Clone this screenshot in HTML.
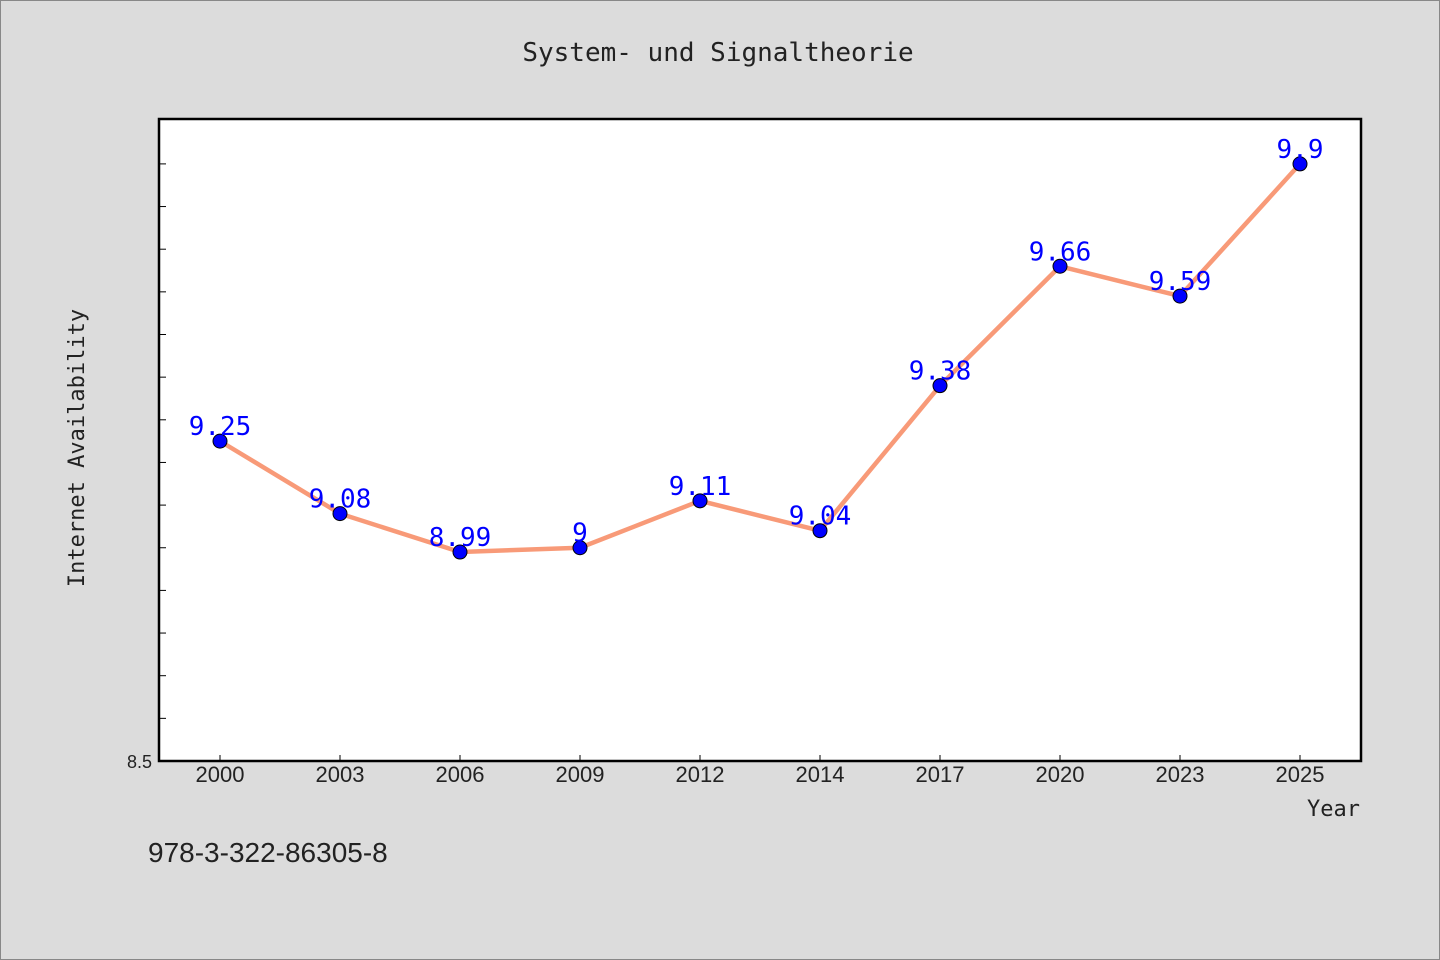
<!DOCTYPE html>
<html><head><meta charset="utf-8"><style>
body{margin:0;background:#dcdcdc;}
svg{display:block;font-family:"Liberation Sans","WenQuanYi Zen Hei",sans-serif;}
</style></head><body>
<svg width="1440" height="960" id="chart">
<rect x="0.5" y="0.5" width="1439" height="959" fill="#dcdcdc" stroke="#888"/>
<text x="718" y="61" text-anchor="middle" font-size="26" fill="#222" font-family="'WenQuanYi Zen Hei',monospace">System- und Signaltheorie</text>
<rect x="159" y="119" width="1202" height="642" fill="#fff" stroke="#000" stroke-width="2.5"/>
<g id="yticks"></g><g id="xticks"></g>
<text transform="translate(84,448) rotate(-90)" text-anchor="middle" font-size="22" fill="#222" font-family="'WenQuanYi Zen Hei',monospace">Internet Availability</text>
<text x="1360" y="816" text-anchor="end" font-size="22" fill="#222" font-family="'WenQuanYi Zen Hei',monospace">Year</text>
<text x="148" y="862" font-size="28" fill="#222" font-family="'WenQuanYi Zen Hei',sans-serif">978-3-322-86305-8</text>
<g id="series"></g>
</svg>
<script>
const categories=["2000","2003","2006","2009","2012","2014","2017","2020","2023","2025"];
const values=[9.25,9.08,8.99,9.0,9.11,9.04,9.38,9.66,9.59,9.9];
const yMin=8.5,yMax=10.0;
const NS="http://www.w3.org/2000/svg";
const X0=159,X1=1361,Y0=761,Y1=119;
function x(i){return 220+i*120;}
function y(v){return Y0-(v-yMin)/(yMax-yMin)*(Y0-Y1)*0.9965;}
function mk(t,a,p){const e=document.createElementNS(NS,t);for(const k in a)e.setAttribute(k,a[k]);p.appendChild(e);return e;}
const yt=document.getElementById('yticks');
for(let k=0;k<=14;k++){const v=yMin+k*0.1;const yy=y(v);
 const l=mk('line',{x1:X0,x2:X0+7,y1:yy,y2:yy,stroke:'#000','stroke-width':1},yt);
 
 }
const yl=mk('text',{x:152,y:Y0+7,'text-anchor':'end','font-size':18,fill:'#222'},yt);


yl.textContent='8.5';
const xt=document.getElementById('xticks');
categories.forEach((c,i)=>{
 const l=mk('line',{x1:x(i),x2:x(i),y1:Y0,y2:Y0-6,stroke:'#000','stroke-width':1},xt);
 
 
 const t=mk('text',{x:x(i),y:782,'text-anchor':'middle','font-size':22,fill:'#222'},xt);
 
 
 t.textContent=c;});
const s=document.getElementById('series');
const pl=mk('polyline',{points:values.map((v,i)=>x(i)+','+y(v)).join(' '),fill:'none',stroke:'#f89a78','stroke-width':4.5,'stroke-linejoin':'round'},s);


values.forEach((v,i)=>{
 const c=mk('circle',{cx:x(i),cy:y(v),r:7,fill:'#0000ff',stroke:'#000','stroke-width':1},s);
 
 
 const t=mk('text',{x:x(i),y:y(v)-6,'text-anchor':'middle','font-size':26,fill:'#0000ff','font-family':"'WenQuanYi Zen Hei',monospace"},s);
 
 
 t.textContent=String(v);});
</script>
</body></html>
